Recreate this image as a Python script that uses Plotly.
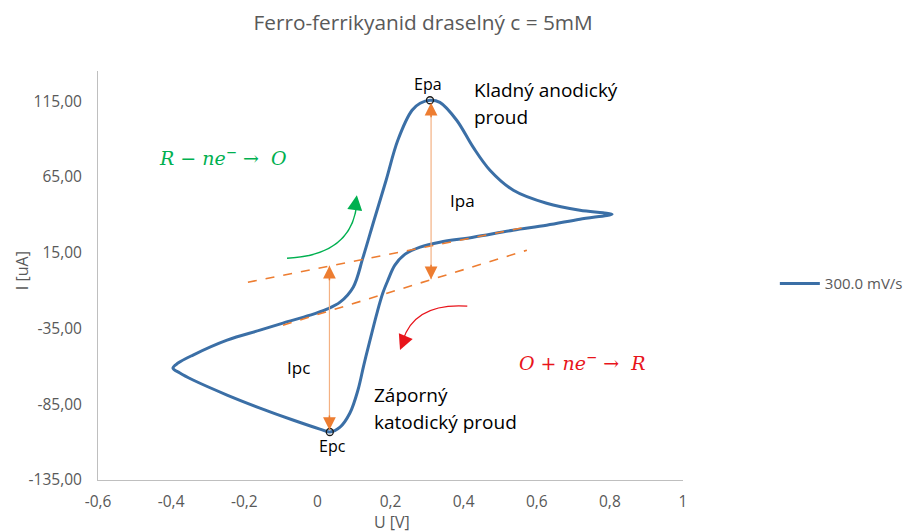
import plotly.graph_objects as go

# ---- data (cyclic voltammogram) ----
U = [0.806, 0.718, 0.627, 0.535, 0.426, 0.335, 0.281, 0.240, 0.212, 0.193, 0.179,
     0.163, 0.144, 0.127, 0.111, 0.089, 0.062, 0.034, 0.007, -0.067, -0.157, -0.247,
     -0.340, -0.376, -0.395, -0.381, -0.340, -0.247, -0.157, -0.094, -0.020, 0.026,
     0.062, 0.098, 0.125, 0.155, 0.188, 0.220, 0.259,
     0.281, 0.308, 0.335, 0.381, 0.426, 0.472, 0.536,
     0.627, 0.718, 0.781, 0.806]
I = [40.5, 37.2, 33.2, 29.9, 25.3, 22.0, 18.7, 14.1, 6.8, -3.1, -11.6,
     -24.8, -42.7, -59.1, -75.6, -90.8, -100.1, -103.3, -101.4, -95.4, -87.5, -78.9,
     -69.0, -64.4, -61.1, -57.8, -52.5, -42.7, -36.1, -31.4, -26.2, -22.2,
     -17.6, -7.7, 12.1, 36.5, 62.9, 89.3, 109.1,
     113.7, 115.7, 114.3, 102.5, 84.7, 69.5, 56.3,
     47.7, 43.1, 41.4, 40.5]
series_name = "300.0 mV/s"

peak_U = [0.308, 0.034]
peak_I = [115.7, -103.3]
peak_labels = ["Epa", "Epc"]

base_upper_U = [-0.190, 0.582]
base_upper_I = [-4.4, 32.5]
base_lower_U = [-0.094, 0.573]
base_lower_I = [-32.8, 16.7]

ipa_U = 0.311
ipa_I = [-2.4, 114.0]
ipc_U = 0.033
ipc_I = [6.5, -102.0]

x_ticks = [-0.6, -0.4, -0.2, 0, 0.2, 0.4, 0.6, 0.8, 1]
x_ticktext = ["-0,6", "-0,4", "-0,2", "0", "0,2", "0,4", "0,6", "0,8", "1"]
y_ticks = [-135, -85, -35, 15, 65, 115]
y_ticktext = ["-135,00", "-85,00", "-35,00", "15,00", "65,00", "115,00"]

title_text = "Ferro-ferrikyanid draselný c = 5mM"
x_title = "U [V]"
y_title = "I [uA]"

FONT = "Open Sans"
GRAY = "#595959"
BLUE = "#3b6fa6"
ORANGE = "#ed7d31"
LIGHT_ORANGE = "#f4b183"
GREEN = "#00b050"
RED = "#e8141b"

fig = go.Figure()

fig.add_trace(go.Scatter(x=U, y=I, mode="lines", name=series_name,
                         line=dict(color=BLUE, width=3, shape="spline", smoothing=1.0)))

for bu, bi in [(base_upper_U, base_upper_I), (base_lower_U, base_lower_I)]:
    fig.add_trace(go.Scatter(x=bu, y=bi, mode="lines", showlegend=False, hoverinfo="skip",
                             line=dict(color=ORANGE, width=1.6, dash="dash")))

fig.add_trace(go.Scatter(x=[ipa_U, ipa_U], y=ipa_I, mode="lines", showlegend=False,
                         hoverinfo="skip", line=dict(color=LIGHT_ORANGE, width=1.2)))
fig.add_trace(go.Scatter(x=[ipc_U, ipc_U], y=ipc_I, mode="lines", showlegend=False,
                         hoverinfo="skip", line=dict(color=LIGHT_ORANGE, width=1.2)))

fig.add_trace(go.Scatter(x=peak_U, y=peak_I, mode="markers", showlegend=False,
                         marker=dict(symbol="circle-open", size=7, color="#1a1a1a",
                                     line=dict(width=1.3))))

fig.add_shape(type="path", xref="x", yref="y",
              path="M -0.083,11.4 Q 0.095,13.4 0.108,47.7",
              line=dict(color=GREEN, width=1.5))
fig.add_shape(type="path", xref="x", yref="y",
              path="M 0.410,-20.2 Q 0.267,-17.9 0.234,-42.7",
              line=dict(color=RED, width=1.2))

ann = []
def head(x, y, ax, ay, color, size=1.7):
    ann.append(dict(x=x, y=y, xref="x", yref="y", ax=ax, ay=ay, text="", showarrow=True,
                    arrowhead=2, arrowsize=size, arrowwidth=1.5, arrowcolor=color))

head(ipa_U, ipa_I[1], 0, 16, ORANGE)
head(ipa_U, ipa_I[0], 0, -16, ORANGE)
head(ipc_U, ipc_I[0], 0, 16, ORANGE)
head(ipc_U, ipc_I[1], 0, -16, ORANGE)
head(0.108, 53.0, -2, 14, GREEN, 2.0)
head(0.226, -49.2, 5, -12, RED, 2.0)

def txt(x, y, s, size=16, color="black", xanchor="center", font=FONT):
    ann.append(dict(x=x, y=y, xref="x", yref="y", text=s, showarrow=False,
                    xanchor=xanchor, yanchor="middle",
                    font=dict(family=font, size=size, color=color)))

txt(0.303, 126.2, peak_labels[0], 16)
txt(0.040, -112.6, peak_labels[1], 16)
txt(0.423, 122.3, "Kladný anodický", 19, xanchor="left")
txt(0.423, 104.4, "proud", 19, xanchor="left")
txt(0.398, 49.7, "Ipa", 17)
txt(-0.053, -60.5, "Ipc", 17)
txt(0.149, -78.9, "Záporný", 19, xanchor="left")
txt(0.149, -96.7, "katodický proud", 19, xanchor="left")
txt(-0.439, 78.1, "<i>R</i> − <i>ne</i><sup>−</sup> →  <i>O</i>", 19, GREEN, "left", "DejaVu Serif")
txt(0.546, -57.2, "<i>O</i> + <i>ne</i><sup>−</sup> →  <i>R</i>", 19, RED, "left", "DejaVu Serif")

ann.append(dict(x=0.503, y=-0.103, xref="paper", yref="paper", text=x_title, showarrow=False,
                xanchor="center", yanchor="middle", font=dict(family=FONT, size=16, color=GRAY)))
ann.append(dict(x=-0.130, y=0.513, xref="paper", yref="paper", text=y_title, showarrow=False,
                textangle=-90, xanchor="center", yanchor="middle",
                font=dict(family=FONT, size=16, color=GRAY)))

fig.update_layout(
    width=910, height=532,
    margin=dict(l=98, r=227, t=71, b=52, autoexpand=False),
    paper_bgcolor="white", plot_bgcolor="white",
    title=dict(text=title_text, xref="container", x=0.465, xanchor="center",
               yref="container", y=1 - 23 / 532, yanchor="middle",
               font=dict(family=FONT, size=20.8, color=GRAY)),
    font=dict(family=FONT, color=GRAY),
    legend=dict(x=1.157, y=0.48, xanchor="left", yanchor="middle", itemwidth=40,
                font=dict(family=FONT, size=15, color=GRAY), bgcolor="rgba(0,0,0,0)"),
    annotations=ann,
    xaxis=dict(range=[-0.6, 1], tickvals=x_ticks, ticktext=x_ticktext, showgrid=False,
               zeroline=False, showline=True, linecolor="#bfbfbf", linewidth=1,
               ticks="", ticklabelstandoff=7, tickfont=dict(family=FONT, size=15.5, color=GRAY)),
    yaxis=dict(range=[-135, 135], tickvals=y_ticks, ticktext=y_ticktext, showgrid=False,
               zeroline=False, showline=True, linecolor="#bfbfbf", linewidth=1,
               ticks="", ticklabelstandoff=12, tickfont=dict(family=FONT, size=15.5, color=GRAY)),
)

fig.write_html("out.html")
